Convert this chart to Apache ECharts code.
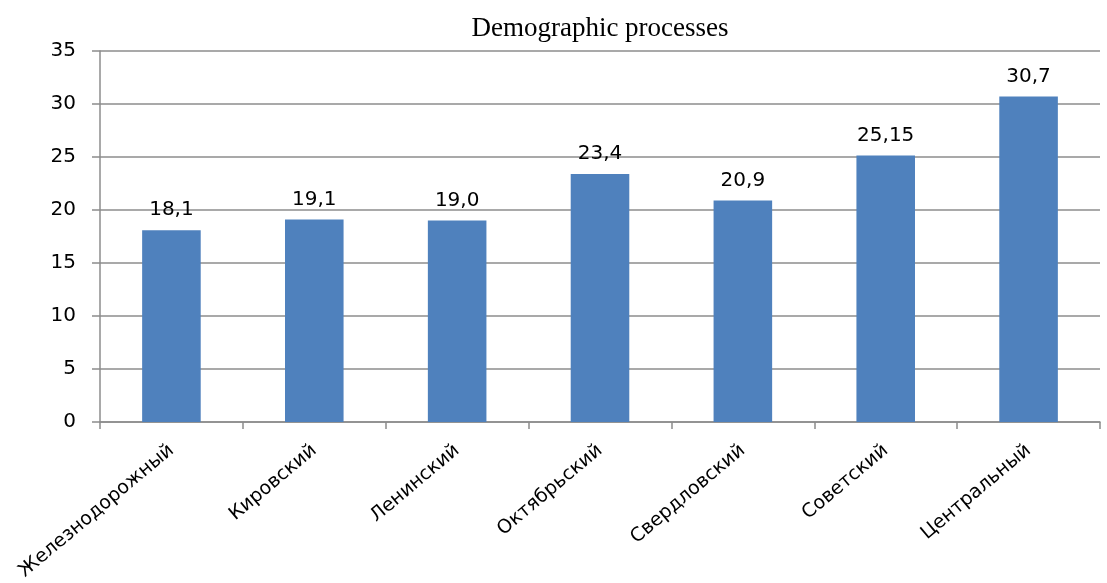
<!DOCTYPE html>
<html><head><meta charset="utf-8">
<script src="https://cdn.jsdelivr.net/npm/echarts@6/dist/echarts.min.js"></script>
<style>html,body{margin:0;padding:0;background:#fff}#c{width:1107px;height:583px}</style>
</head><body><div id="c"></div>
<script>
const categories = ['Железнодорожный','Кировский','Ленинский','Октябрьский','Свердловский','Советский','Центральный'];
const values = [18.1, 19.1, 19.0, 23.4, 20.9, 25.15, 30.7];
const valueLabels = ['18,1','19,1','19,0','23,4','20,9','25,15','30,7'];
const chart = echarts.init(document.getElementById('c'));
chart.setOption({
  animation:false,
  backgroundColor:'#fff',
  title:{text:'Demographic processes',left:595,top:10,textAlign:'center',
    textStyle:{fontFamily:'Liberation Serif',fontSize:27,fontWeight:'normal',color:'#000'}},
  grid:{left:100,right:7,top:51,bottom:161,containLabel:false},
  xAxis:{type:'category',data:categories,
    axisLine:{lineStyle:{color:'#8c8c8c',width:1.5}},
    axisTick:{show:true,alignWithLabel:false,length:7,lineStyle:{color:'#8c8c8c',width:1.5}},
    axisLabel:{rotate:40,interval:0,margin:26,fontFamily:'DejaVu Sans',fontSize:19,color:'#000'}},
  yAxis:{type:'value',min:0,max:35,interval:5,
    axisLine:{show:true,lineStyle:{color:'#8c8c8c',width:1.5}},
    axisTick:{show:true,length:8,lineStyle:{color:'#8c8c8c',width:1.5}},
    splitLine:{lineStyle:{color:'#8c8c8c',width:1.5}},
    axisLabel:{margin:24,fontFamily:'DejaVu Sans',fontSize:20,color:'#000'}},
  series:[{type:'bar',data:values,barWidth:'41%',
    itemStyle:{color:'#4F81BD'},
    label:{show:true,position:'top',distance:10,fontFamily:'DejaVu Sans',fontSize:20,color:'#000',
      formatter:p=>valueLabels[p.dataIndex]}}]
});
</script></body></html>
